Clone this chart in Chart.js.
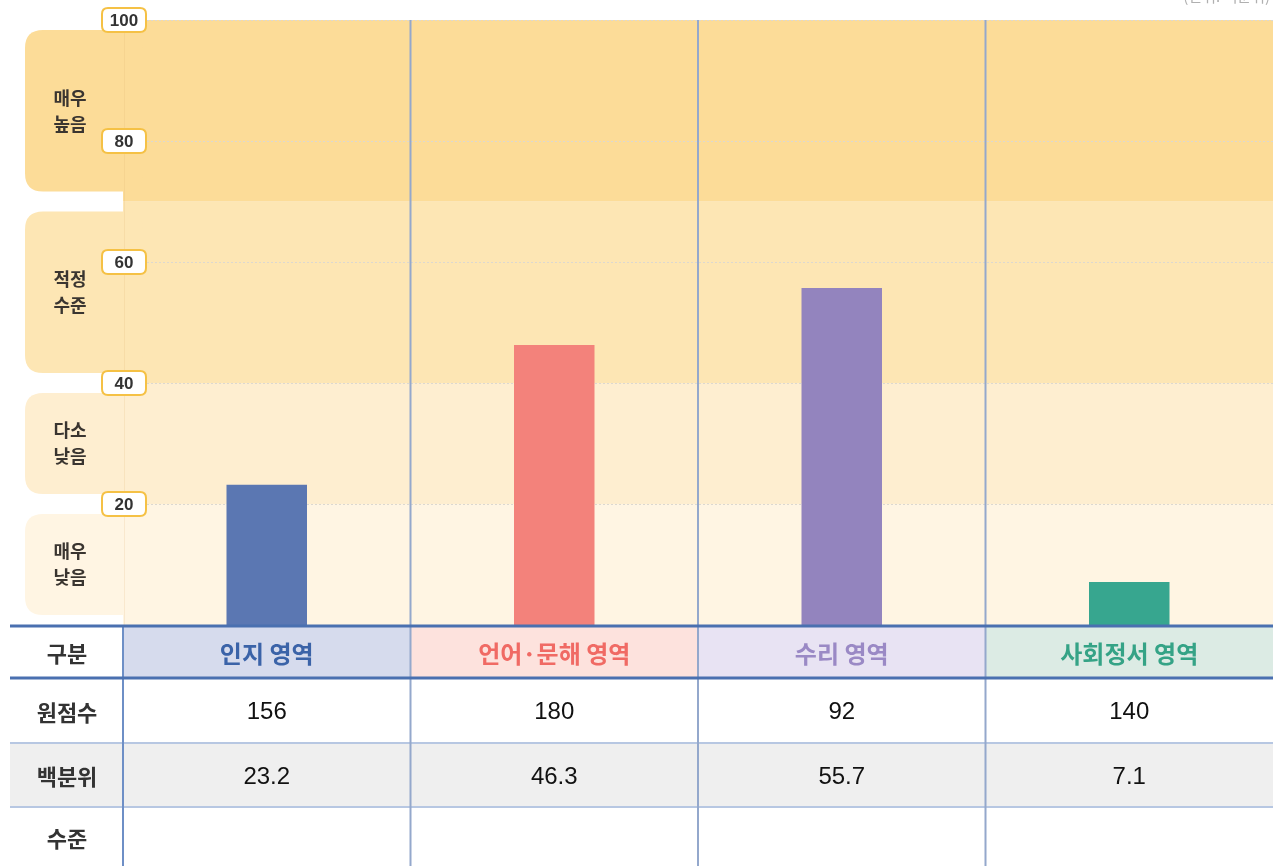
<!DOCTYPE html>
<html>
<head>
<meta charset="utf-8">
<title>영역별 백분위</title>
<script src="https://cdn.jsdelivr.net/npm/chart.js"></script>
<style>
  html, body { margin:0; padding:0; background:#fff; }
  #wrap { width:1273px; height:866px; position:relative; }
</style>
</head>
<body>
<div id="wrap"><canvas id="chart" width="1273" height="866"></canvas></div>

<script>
// ================= DATA =================
const categories = ['인지 영역', '언어·문해 영역', '수리 영역', '사회정서 영역'];
const percentiles = [23.2, 46.3, 55.7, 7.1];
const rawScores = [156, 180, 92, 140];
const yTicks = [20, 40, 60, 80, 100];
const bandLimits = [0, 20, 40, 70, 100];
const bandLabels = [['매우', '낮음'], ['다소', '낮음'], ['적정', '수준'], ['매우', '높음']];
const rowLabels = ['구분', '원점수', '백분위', '수준'];

// ================= STYLES =================
const barColors = ['#5b77b2', '#f3827b', '#9384be', '#37a68f'];
const headFill = ['#d6dbed', '#fde2dd', '#e8e3f3', '#dcebe4'];
const headText = ['#3b63a8', '#f06a64', '#9a89c5', '#35a386'];
const bandColors = ['#fff5e3', '#feeed0', '#fde6b4', '#fcdc98'];
const KR = '"Noto Sans CJK KR", "Noto Sans", sans-serif';
const NUM = '"Liberation Sans", Arial, sans-serif';

const TABLE_TOP = 626;
const HEAD_BOTTOM = 678;
const ROW_LINES = [743, 807];
const BOTTOM = 866;
const LEFT_COL = 10;

function roundRect(ctx, x, y, w, h, r) {
  ctx.beginPath();
  ctx.moveTo(x + r, y);
  ctx.lineTo(x + w - r, y);
  ctx.quadraticCurveTo(x + w, y, x + w, y + r);
  ctx.lineTo(x + w, y + h - r);
  ctx.quadraticCurveTo(x + w, y + h, x + w - r, y + h);
  ctx.lineTo(x + r, y + h);
  ctx.quadraticCurveTo(x, y + h, x, y + h - r);
  ctx.lineTo(x, y + r);
  ctx.quadraticCurveTo(x, y, x + r, y);
  ctx.closePath();
}

// category boundaries from the x scale
function columnEdges(chart) {
  const xs = chart.scales.x;
  const edges = [chart.chartArea.left];
  for (let i = 0; i < categories.length - 1; i++) {
    edges.push((xs.getPixelForValue(i) + xs.getPixelForValue(i + 1)) / 2);
  }
  edges.push(chart.chartArea.right);
  return edges;
}

// ================= BACKGROUND =================
const backdrop = {
  id: 'backdrop',
  beforeDatasetsDraw(chart) {
    const { ctx, chartArea: a } = chart;
    const ys = chart.scales.y;
    ctx.save();

    // level bands + left label boxes
    for (let i = 0; i < bandLabels.length; i++) {
      const top = ys.getPixelForValue(bandLimits[i + 1]);
      const bot = ys.getPixelForValue(bandLimits[i]);
      ctx.fillStyle = bandColors[i];
      ctx.fillRect(a.left, top, a.right - a.left, bot - top);

      roundRect(ctx, 25, top + 10, a.left - 25 + 20, bot - top - 20, 18);
      ctx.fill();

      ctx.fillStyle = '#3a3530';
      ctx.font = 'bold 18px ' + KR;
      ctx.textAlign = 'center';
      ctx.textBaseline = 'middle';
      const mid = (top + bot) / 2;
      ctx.fillText(bandLabels[i][0], 70, mid - 13);
      ctx.fillText(bandLabels[i][1], 70, mid + 13);
    }

    // faint edge of the plot
    ctx.strokeStyle = 'rgba(220,180,110,0.18)';
    ctx.lineWidth = 1;
    ctx.beginPath();
    ctx.moveTo(a.left + 1.5, a.top);
    ctx.lineTo(a.left + 1.5, a.bottom);
    ctx.stroke();

    // dotted grid
    ctx.strokeStyle = '#dcd8d0';
    ctx.setLineDash([2, 2]);
    yTicks.forEach(v => {
      const y = Math.round(ys.getPixelForValue(v)) + 0.5;
      ctx.beginPath();
      ctx.moveTo(a.left + 20, y);
      ctx.lineTo(a.right, y);
      ctx.stroke();
    });
    ctx.setLineDash([]);

    // unit caption (cut by the top edge)
    ctx.fillStyle = '#b0b0b0';
    ctx.font = '15px ' + KR;
    ctx.textAlign = 'right';
    ctx.textBaseline = 'bottom';
    ctx.fillText('(단위: 백분위)', 1270, 4);

    ctx.restore();
  }
};

// ================= TICKS + TABLE =================
const overlay = {
  id: 'overlay',
  afterDatasetsDraw(chart) {
    const { ctx, chartArea: a } = chart;
    const ys = chart.scales.y;
    const xs = chart.scales.x;
    const edges = columnEdges(chart);
    ctx.save();

    // header cells
    for (let i = 0; i < categories.length; i++) {
      ctx.fillStyle = headFill[i];
      ctx.fillRect(edges[i], TABLE_TOP, edges[i + 1] - edges[i], HEAD_BOTTOM - TABLE_TOP);
    }
    // grey percentile row
    ctx.fillStyle = '#efefef';
    ctx.fillRect(LEFT_COL, ROW_LINES[0], a.right - LEFT_COL, ROW_LINES[1] - ROW_LINES[0]);

    // thin row lines
    ctx.strokeStyle = '#b7c7e2';
    ctx.lineWidth = 2;
    ROW_LINES.forEach(y => {
      ctx.beginPath();
      ctx.moveTo(LEFT_COL, y);
      ctx.lineTo(a.right, y);
      ctx.stroke();
    });

    // column dividers through chart and table
    ctx.strokeStyle = '#94a8cc';
    ctx.lineWidth = 2;
    for (let i = 1; i < edges.length - 1; i++) {
      ctx.beginPath();
      ctx.moveTo(edges[i], a.top);
      ctx.lineTo(edges[i], BOTTOM);
      ctx.stroke();
    }
    ctx.strokeStyle = '#6e8fc6';
    ctx.beginPath();
    ctx.moveTo(edges[0], TABLE_TOP);
    ctx.lineTo(edges[0], BOTTOM);
    ctx.stroke();

    // thick header lines
    ctx.strokeStyle = '#4a70b0';
    ctx.lineWidth = 3;
    [TABLE_TOP, HEAD_BOTTOM].forEach(y => {
      ctx.beginPath();
      ctx.moveTo(LEFT_COL, y);
      ctx.lineTo(a.right, y);
      ctx.stroke();
    });

    // row titles
    const rowMids = [(TABLE_TOP + HEAD_BOTTOM) / 2, (HEAD_BOTTOM + ROW_LINES[0]) / 2,
      (ROW_LINES[0] + ROW_LINES[1]) / 2, (ROW_LINES[1] + BOTTOM) / 2];
    ctx.textAlign = 'center';
    ctx.textBaseline = 'middle';
    ctx.fillStyle = '#333';
    ctx.font = 'bold 22px ' + KR;
    rowLabels.forEach((t, i) => ctx.fillText(t, 67, rowMids[i] + 2));

    // header + values
    for (let i = 0; i < categories.length; i++) {
      const cx = xs.getPixelForValue(i);
      ctx.fillStyle = headText[i];
      ctx.font = 'bold 24px ' + KR;
      ctx.fillText(categories[i], cx, rowMids[0] + 2);
      ctx.fillStyle = '#111';
      ctx.font = '24px ' + NUM;
      ctx.fillText(String(rawScores[i]), cx, rowMids[1] + 2);
      ctx.fillText(percentiles[i].toFixed(1), cx, rowMids[2] + 2);
    }

    // y tick badges
    ctx.font = 'bold 17px ' + NUM;
    yTicks.forEach(v => {
      const y = ys.getPixelForValue(v);
      roundRect(ctx, a.left - 21, y - 12, 44, 24, 6);
      ctx.fillStyle = '#fff';
      ctx.fill();
      ctx.strokeStyle = '#f5c145';
      ctx.lineWidth = 2;
      ctx.stroke();
      ctx.fillStyle = '#333';
      ctx.fillText(String(v), a.left + 1, y + 1);
    });

    ctx.restore();
  }
};

// ================= CHART =================
new Chart(document.getElementById('chart'), {
  type: 'bar',
  data: {
    labels: categories,
    datasets: [{
      data: percentiles,
      backgroundColor: barColors,
      borderWidth: 0,
      categoryPercentage: 1,
      barPercentage: 0.28
    }]
  },
  options: {
    responsive: false,
    animation: false,
    layout: { padding: { left: 123, right: 0, top: 20, bottom: 866 - 625 } },
    plugins: { legend: { display: false }, tooltip: { enabled: false } },
    scales: {
      x: { display: false, offset: true },
      y: { display: false, min: 0, max: 100 }
    }
  },
  plugins: [backdrop, overlay]
});
</script>
</body>
</html>
